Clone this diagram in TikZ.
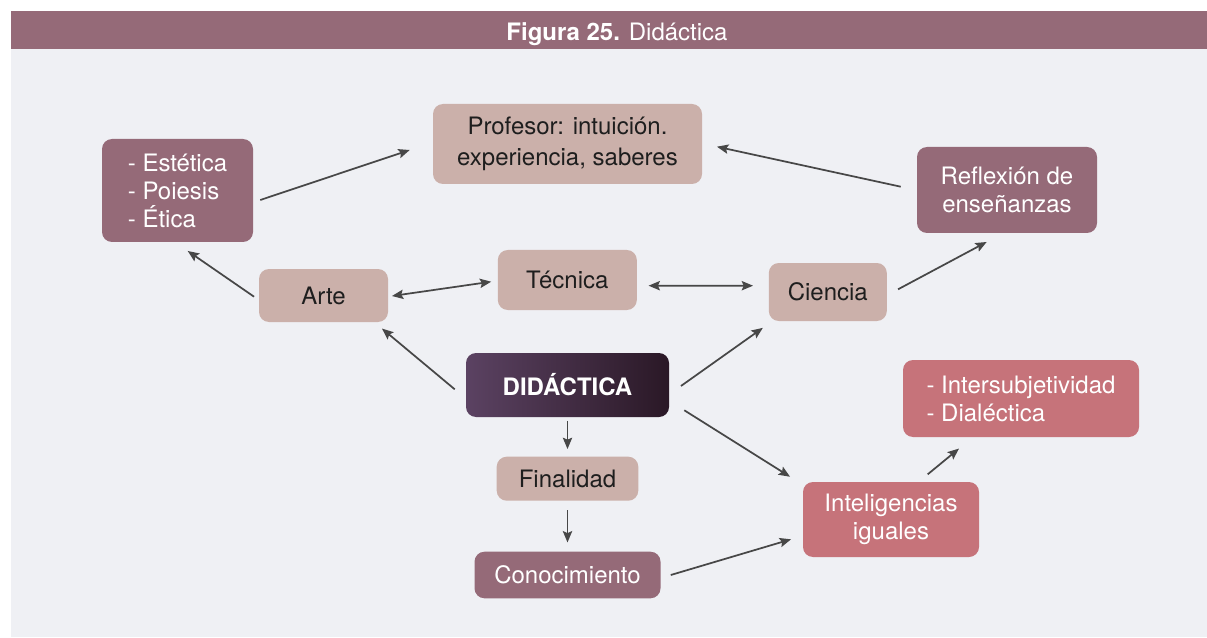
\documentclass[tikz,border=0pt]{standalone}
\usepackage{fontspec}
\setmainfont{TeX Gyre Heros}
\usetikzlibrary{arrows.meta,calc}
\definecolor{hdr}{HTML}{956A78}
\definecolor{bgc}{HTML}{EFF0F4}
\definecolor{light}{HTML}{CBB0AA}
\definecolor{mauve}{HTML}{956A78}
\definecolor{rosy}{HTML}{C6737A}
\definecolor{didL}{HTML}{5B4262}
\definecolor{didR}{HTML}{2A1826}
\definecolor{arrc}{HTML}{474747}
\definecolor{txtd}{HTML}{1E1E1E}
\tikzset{
  box/.style={rounded corners=7.5pt, inner sep=0pt, align=center,
    font=\fontsize{18}{21}\selectfont},
  lightbox/.style={box, fill=light, text=txtd},
  mauvebox/.style={box, fill=mauve, text=white},
  rosybox/.style={box, fill=rosy, text=white},
  didbox/.style={box, left color=didL, right color=didR, text=white,
    font=\fontsize{18}{21}\selectfont\bfseries},
  arr/.style={draw=arrc, line width=1.3pt, -{Stealth[length=8.5pt,width=7pt,inset=1.5pt]}},
  darr/.style={draw=arrc, line width=1.3pt, {Stealth[length=8.5pt,width=7pt,inset=1.5pt]}-{Stealth[length=8.5pt,width=7pt,inset=1.5pt]}}
}
\begin{document}
\begin{tikzpicture}[x=0.75pt,y=-0.75pt]
\useasboundingbox (0,0) rectangle (1207,638);
\fill[white] (0,0) rectangle (1207,638);
\fill[bgc] (11,49) rectangle (1207,637);
\fill[hdr] (11,11) rectangle (1207,49);
\node[anchor=base, text=white, font=\fontsize{18}{20}\selectfont] (title) at (617,41) {\textbf{Figura 25.} Didáctica};

\node[lightbox, minimum width=269*0.75pt, minimum height=80*0.75pt, font=\fontsize{18}{23}\selectfont] (prof) at (567.5,144) {Profesor: intuición.\\experiencia, saberes};
\node[mauvebox, minimum width=151*0.75pt, minimum height=103*0.75pt, align=left] (est) at (177.5,190.5) {- Estética\\- Poiesis\\- Ética};
\node[mauvebox, minimum width=180*0.75pt, minimum height=86*0.75pt] (refl) at (1007,190) {Reflexión de\\enseñanzas};
\node[lightbox, minimum width=129*0.75pt, minimum height=53*0.75pt] (arte) at (323.5,295.5) {Arte};
\node[lightbox, minimum width=139*0.75pt, minimum height=60*0.75pt] (tec) at (567.3,280) {Técnica};
\node[lightbox, minimum width=118*0.75pt, minimum height=58*0.75pt] (cien) at (827.8,292) {Ciencia};
\node[didbox, minimum width=203*0.75pt, minimum height=64*0.75pt] (did) at (567.5,385) {DIDÁCTICA};
\node[rosybox, minimum width=236*0.75pt, minimum height=77*0.75pt, align=left] (inter) at (1021,398.5) {- Intersubjetividad\\- Dialéctica};
\node[lightbox, minimum width=141.6*0.75pt, minimum height=44*0.75pt] (fin) at (567.5,478.7) {Finalidad};
\node[mauvebox, minimum width=186*0.75pt, minimum height=46.6*0.75pt] (con) at (567.5,575) {Conocimiento};
\node[rosybox, minimum width=176*0.75pt, minimum height=75*0.75pt] (intel) at (891,519.5) {Inteligencias\\iguales};

\draw[arr] ($(est.east)+(7,9.5)$) -- ($(prof.west)+(-23,6)$);
\draw[arr] ($(refl.west)+(-16,-3.3)$) -- ($(prof.east)+(14.7,2.7)$);
\draw[arr] ($(arte.west)+(-4.7,1.2)$) -- ($(est.south)+(10.2,8.7)$);
\draw[darr] ($(arte.east)+(3.7,0.5)$) -- ($(tec.west)+(-6.3,1.7)$);
\draw[darr] ($(tec.east)+(11.5,5.7)$) -- ($(cien.west)+(-15.5,-6.3)$);
\draw[arr] ($(cien.east)+(11,-2.7)$) -- ($(refl.south)+(-20.3,8.7)$);
\draw[arr] ($(did.west)+(-11,4.3)$) -- ($(arte.south east)+(-6.3,6.3)$);
\draw[arr] ($(did.east)+(11.7,1)$) -- ($(cien.south west)+(-5.7,6.6)$);
\draw[arr] ($(did.south)+(0,3.7)$) -- ($(fin.north)+(0,-7.4)$);
\draw[arr] ($(did.south east)+(15,-7)$) -- ($(intel.north west)+(-12.7,-5)$);
\draw[arr] ($(fin.south)+(0,9.3)$) -- ($(con.north)+(0,-9)$);
\draw[arr] ($(con.east)+(10,0)$) -- ($(intel.west)+(-11.7,19.8)$);
\draw[arr] ($(intel.north)+(36.7,-7.4)$) -- ($(inter.south)+(-62,11.3)$);
\end{tikzpicture}
\end{document}
